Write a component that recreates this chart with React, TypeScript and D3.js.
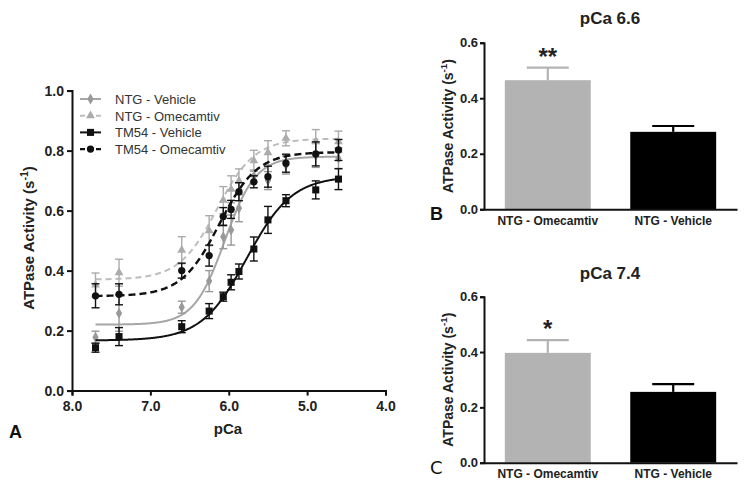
import React, { useEffect, useRef } from "react";
import * as d3 from "d3";

// pCa points (x) shared by all four series
const pCa = [7.7, 7.4, 6.6, 6.25, 6.07, 5.97, 5.87, 5.68, 5.5, 5.27, 4.89, 4.6];

const ntgVeh = [0.178, 0.258, 0.278, 0.365, 0.513, 0.535, 0.608, 0.715, 0.7, 0.752, 0.784, 0.774];
const ntgVehErr = [0.02, 0.06, 0.02, 0.035, 0.04, 0.05, 0.045, 0.02, 0.03, 0.03, 0.04, 0.035];
const ntgOme = [0.352, 0.393, 0.468, 0.533, 0.635, 0.671, 0.699, 0.766, 0.793, 0.841, 0.83, 0.83];
const ntgOmeErr = [0.04, 0.045, 0.045, 0.05, 0.045, 0.045, 0.04, 0.035, 0.04, 0.025, 0.04, 0.035];
const tmVeh = [0.143, 0.18, 0.213, 0.265, 0.313, 0.361, 0.397, 0.472, 0.569, 0.633, 0.669, 0.705];
const tmVehErr = [0.015, 0.03, 0.02, 0.025, 0.015, 0.025, 0.025, 0.04, 0.045, 0.02, 0.03, 0.035];
const tmOme = [0.316, 0.321, 0.4, 0.45, 0.58, 0.604, 0.663, 0.696, 0.713, 0.758, 0.789, 0.802];
const tmOmeErr = [0.04, 0.035, 0.025, 0.035, 0.03, 0.03, 0.03, 0.02, 0.035, 0.03, 0.04, 0.035];

// Hill fit params: bottom, top, pCa50, nH
const ntgVehFit = [0.22, 0.78, 6.05, 2.2];
const ntgOmeFit = [0.37, 0.84, 6.15, 1.8];
const tmVehFit = [0.167, 0.715, 5.77, 1.5];
const tmOmeFit = [0.315, 0.795, 6.12, 1.8];

const xTicks = [8, 7, 6, 5, 4];
const yTicks = [0, 0.2, 0.4, 0.6, 0.8, 1.0];

const barCats = ["NTG - Omecamtiv", "NTG - Vehicle"];
const bar66 = [0.465, 0.279];
const bar66Err = [0.045, 0.021];
const bar74 = [0.397, 0.256];
const bar74Err = [0.046, 0.028];
const barTicks = [0, 0.2, 0.4, 0.6];

const FONT = "'Liberation Sans', Arial, sans-serif";

const series = [
  { name: "NTG - Vehicle", y: ntgVeh, err: ntgVehErr, fit: ntgVehFit, color: "#a6a6a6", mark: "#999", sym: d3.symbolDiamond, size: 34, dash: null, w: 2 },
  { name: "NTG - Omecamtiv", y: ntgOme, err: ntgOmeErr, fit: ntgOmeFit, color: "#bdbdbd", mark: "#ababab", sym: d3.symbolTriangle, size: 34, dash: "6,4", w: 2 },
  { name: "TM54 - Vehicle", y: tmVeh, err: tmVehErr, fit: tmVehFit, color: "#111", mark: "#111", sym: d3.symbolSquare, size: 50, dash: null, w: 2 },
  { name: "TM54 - Omecamtiv", y: tmOme, err: tmOmeErr, fit: tmOmeFit, color: "#111", mark: "#111", sym: d3.symbolCircle, size: 42, dash: "7,4", w: 2.4 },
];

const hill = (p: number[], x: number) => p[0] + (p[1] - p[0]) / (1 + Math.pow(10, p[3] * (x - p[2])));

const App = () => {
  const ref = useRef<SVGSVGElement>(null);

  useEffect(() => {
    const svg = d3.select(ref.current);
    svg.selectAll("*").remove();

    // ---------- panel A ----------
    const x = d3.scaleLinear().domain([8, 4]).range([72, 385.5]);
    const y = d3.scaleLinear().domain([0, 1]).range([390.6, 90.6]);

    const gA = svg.append("g");
    const xAx = gA
      .append("g")
      .attr("transform", `translate(0,${y(0)})`)
      .call(d3.axisBottom(x).tickValues(xTicks).tickSize(5).tickPadding(5).tickFormat(d3.format(".1f")));
    const yAx = gA
      .append("g")
      .attr("transform", `translate(${x(8)},0)`)
      .call(d3.axisLeft(y).tickValues(yTicks).tickSize(5).tickPadding(3).tickFormat(d3.format(".1f")));
    [xAx, yAx].forEach((a) => {
      a.select(".domain").attr("stroke", "#111").attr("stroke-width", 2);
      a.selectAll(".tick line").attr("stroke", "#111").attr("stroke-width", 2);
      a.selectAll("text").attr("fill", "#222").style("font", `bold 14px ${FONT}`);
    });

    const fitX = d3.range(7.7, 4.59, -0.01);
    series.forEach((s) => {
      const line = d3
        .line<number>()
        .x((d) => x(d))
        .y((d) => y(hill(s.fit, d)));
      gA.append("path")
        .datum(fitX)
        .attr("fill", "none")
        .attr("stroke", s.color)
        .attr("stroke-width", s.w)
        .attr("stroke-dasharray", s.dash)
        .attr("d", line);

      const eb = gA.append("g").attr("stroke", s.mark).attr("stroke-width", 1.4);
      pCa.forEach((p, i) => {
        const cx = x(p);
        const y1 = y(s.y[i] + s.err[i]);
        const y0 = y(s.y[i] - s.err[i]);
        eb.append("line").attr("x1", cx).attr("x2", cx).attr("y1", y0).attr("y2", y1);
        eb.append("line").attr("x1", cx - 4).attr("x2", cx + 4).attr("y1", y0).attr("y2", y0);
        eb.append("line").attr("x1", cx - 4).attr("x2", cx + 4).attr("y1", y1).attr("y2", y1);
      });
      gA.selectAll(null)
        .data(pCa)
        .enter()
        .append("path")
        .attr("d", d3.symbol().type(s.sym).size(s.size))
        .attr("transform", (p, i) => `translate(${x(p)},${y(s.y[i])})`)
        .attr("fill", s.mark);
    });

    // legend
    series.forEach((s, i) => {
      const ly = 99 + i * 16.7;
      const lg = gA.append("g");
      lg.append("line")
        .attr("x1", 80)
        .attr("x2", 101)
        .attr("y1", ly)
        .attr("y2", ly)
        .attr("stroke", s.color)
        .attr("stroke-width", s.w)
        .attr("stroke-dasharray", s.dash ? "5,3" : null);
      lg.append("path")
        .attr("d", d3.symbol().type(s.sym).size(s.size)())
        .attr("transform", `translate(90.5,${ly})`)
        .attr("fill", s.mark);
      lg.append("text")
        .attr("x", 115)
        .attr("y", ly + 5)
        .attr("fill", "#333")
        .style("font", `13px ${FONT}`)
        .text(s.name);
    });

    gA.append("text")
      .attr("x", 228)
      .attr("y", 434)
      .attr("text-anchor", "middle")
      .attr("fill", "#222")
      .style("font", `bold 15px ${FONT}`)
      .text("pCa");
    gA.append("text")
      .attr("x", 9)
      .attr("y", 438)
      .attr("fill", "#111")
      .style("font", `bold 18px ${FONT}`)
      .text("A");

    const yLabel = (g: any, cx: number, cy: number, size: number) => {
      const t = g
        .append("text")
        .attr("transform", `translate(${cx},${cy}) rotate(-90)`)
        .attr("text-anchor", "middle")
        .attr("fill", "#222")
        .style("font", `bold ${size}px ${FONT}`);
      t.append("tspan").text("ATPase Activity (s");
      t.append("tspan").attr("dy", -size * 0.4).style("font-size", `${size * 0.7}px`).text("-1");
      t.append("tspan").attr("dy", size * 0.4).text(")");
    };
    yLabel(gA, 34, 238, 15);

    // ---------- panels B, C ----------
    const barPanel = (vals: number[], errs: number[], y0: number, y6: number, title: string, titleY: number, star: string, letter: string, letterFont: string) => {
      const g = svg.append("g");
      const by = d3.scaleLinear().domain([0, 0.6]).range([y0, y6]);
      const bx = d3.scaleBand<string>().domain(barCats).range([484, 737]).paddingInner(0.315).paddingOuter(0.166);

      g.selectAll(null)
        .data(barCats)
        .enter()
        .append("rect")
        .attr("x", (d) => bx(d) as number)
        .attr("width", bx.bandwidth())
        .attr("y", (d, i) => by(vals[i]))
        .attr("height", (d, i) => y0 - by(vals[i]))
        .attr("fill", (d, i) => (i === 0 ? "#b3b3b3" : "#000"));

      barCats.forEach((c, i) => {
        const cx = (bx(c) as number) + bx.bandwidth() / 2;
        const col = i === 0 ? "#b3b3b3" : "#000";
        g.append("line").attr("x1", cx).attr("x2", cx).attr("y1", by(vals[i])).attr("y2", by(vals[i] + errs[i])).attr("stroke", col).attr("stroke-width", 2.2);
        g.append("line").attr("x1", cx - 21).attr("x2", cx + 21).attr("y1", by(vals[i] + errs[i])).attr("y2", by(vals[i] + errs[i])).attr("stroke", col).attr("stroke-width", 2.2);
      });

      const ax = g
        .append("g")
        .attr("transform", `translate(0,${y0})`)
        .call(d3.axisBottom(bx).tickSize(0).tickPadding(7));
      const ay = g
        .append("g")
        .attr("transform", `translate(484,0)`)
        .call(d3.axisLeft(by).tickValues(barTicks).tickSize(4).tickPadding(2).tickFormat(d3.format(".1f")));
      [ax, ay].forEach((a) => {
        a.select(".domain").attr("stroke", "#111").attr("stroke-width", 2);
        a.selectAll(".tick line").attr("stroke", "#111").attr("stroke-width", 2);
        a.selectAll("text").attr("fill", "#222").style("font", `bold 13px ${FONT}`);
      });
      ax.selectAll("text").style("font", `bold 12px ${FONT}`);

      const c0 = (bx(barCats[0]) as number) + bx.bandwidth() / 2;
      g.append("text")
        .attr("x", c0)
        .attr("y", by(vals[0] + errs[0]) - 3)
        .attr("text-anchor", "middle")
        .attr("fill", "#222")
        .style("font", `bold 24px ${FONT}`)
        .text(star);
      g.append("text")
        .attr("x", 610)
        .attr("y", titleY)
        .attr("text-anchor", "middle")
        .attr("fill", "#222")
        .style("font", `bold 17px ${FONT}`)
        .text(title);
      g.append("text")
        .attr("x", 430)
        .attr("y", y0 + 11)
        .attr("fill", "#111")
        .style("font", letterFont)
        .text(letter);
      yLabel(g, 453, (y0 + y6) / 2, 14);
    };

    barPanel(bar66, bar66Err, 209.3, 42.7, "pCa 6.6", 24, "**", "B", `bold 18px ${FONT}`);
    barPanel(bar74, bar74Err, 462.7, 296.7, "pCa 7.4", 279, "*", "C", `18px 'DejaVu Sans', sans-serif`);
  }, []);

  return (
    <svg
      ref={ref}
      width={748}
      height={491}
      style={{ position: "absolute", left: 0, top: 0, background: "#fff" }}
    />
  );
};

export default App;
